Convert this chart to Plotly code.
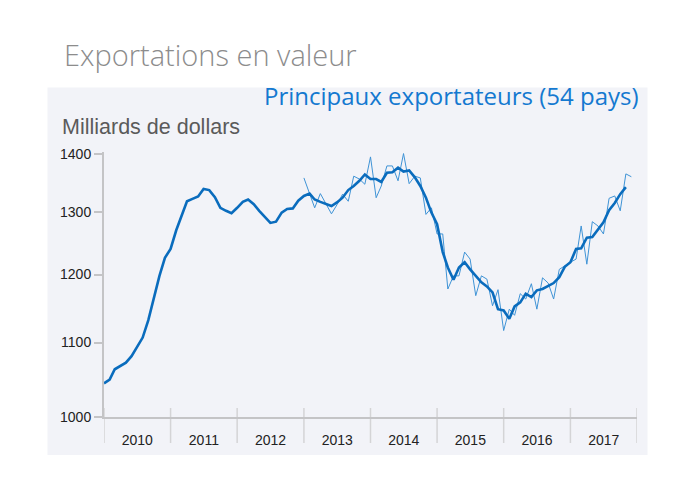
import pandas as pd
import plotly.graph_objects as go

# monthly values, billions of dollars
start_thick = "2010-01-01"
thick_vals = [
    1044, 1049, 1063, 1068, 1072, 1081, 1094, 1107, 1132, 1166, 1198, 1226,
    1240, 1270, 1291, 1318, 1322, 1326, 1339, 1337, 1325, 1307, 1302, 1298,
    1307, 1317, 1321, 1313, 1302, 1292, 1282, 1284, 1299, 1305, 1306, 1319,
    1327, 1331, 1321, 1317, 1313, 1310, 1316, 1324, 1337, 1344, 1353, 1364,
    1356, 1356, 1351, 1367, 1368, 1376, 1369, 1371, 1359, 1344, 1324, 1299,
    1280, 1235, 1211, 1192, 1211, 1219, 1208, 1198, 1188, 1182, 1173, 1148,
    1146, 1134, 1152, 1158, 1171, 1166, 1176, 1178, 1182, 1187, 1196, 1212,
    1219, 1240, 1241, 1258, 1259, 1272, 1283, 1303, 1315, 1330, 1342,
]

start_thin = "2013-01-01"
thin_vals = [
    1358, 1331, 1307, 1331, 1314, 1297, 1312, 1330, 1318, 1361, 1356, 1347,
    1395, 1324, 1344, 1379, 1379, 1353, 1401, 1348, 1361, 1358, 1296, 1307,
    1264, 1264, 1178, 1198, 1198, 1235, 1224, 1168, 1198, 1193, 1153, 1177,
    1117, 1148, 1139, 1171, 1163, 1186, 1148, 1195, 1187, 1163, 1208, 1214,
    1219, 1224, 1277, 1216, 1284, 1277, 1264, 1323, 1327, 1302, 1365, 1360,
]

years = list(range(2010, 2019))
y_ticks = [1000, 1100, 1200, 1300, 1400]

title = "Exportations en valeur"
subtitle = "Principaux exportateurs (54 pays)"
y_title = "Milliards de dollars"

thick_x = pd.date_range(start_thick, periods=len(thick_vals), freq="MS")
thin_x = pd.date_range(start_thin, periods=len(thin_vals), freq="MS")

# the page puts the figure 8px in from the window corner
OFF = 8
W, H = 533, 265
L, T = 104 - OFF, 152 - OFF
R, B = 695 - L - W, 483 - T - H


def px(x):
    # window pixel -> paper x
    return (x - OFF - L) / W


def py(y):
    # window pixel -> paper y
    return (T + H - (y - OFF)) / H


fig = go.Figure()

fig.add_trace(go.Scatter(
    x=thin_x, y=thin_vals, mode="lines",
    line=dict(color="#3f93d6", width=1),
    hoverinfo="skip",
))
fig.add_trace(go.Scatter(
    x=thick_x, y=thick_vals, mode="lines",
    line=dict(color="#0a6cbd", width=2.6),
))

shapes = [dict(
    type="rect", xref="paper", yref="paper",
    x0=px(47.5), x1=px(647.5), y0=py(455), y1=py(87.5),
    fillcolor="#f2f3f8", line=dict(width=0), layer="below",
)]
for yr in years:
    shapes.append(dict(
        type="line", xref="x", yref="paper",
        x0=f"{yr}-01-01", x1=f"{yr}-01-01", y0=py(443), y1=py(408),
        line=dict(color="#d4d4d6", width=1.5), layer="below",
    ))

fig.update_layout(
    width=695, height=483,
    margin=dict(l=L, r=R, t=T, b=B),
    paper_bgcolor="white",
    plot_bgcolor="rgba(0,0,0,0)",
    showlegend=False,
    shapes=shapes,
    font=dict(family="Liberation Sans, Arial, sans-serif", color="#222"),
    xaxis=dict(
        type="date",
        range=[f"{years[0]}-01-01", f"{years[-1]}-01-01"],
        tick0=f"{years[0]}-01-01", dtick="M12",
        ticklabelmode="period", tickformat="%Y",
        ticks="outside", ticklen=9, tickcolor="rgba(0,0,0,0)",
        showgrid=False, zeroline=False,
        showline=True, linecolor="#c4c4c6", linewidth=2,
        tickfont=dict(size=14, color="#222"),
    ),
    yaxis=dict(
        type="log",
        range=[3, 3.1473],
        tickvals=y_ticks, ticktext=[str(v) for v in y_ticks],
        ticks="outside", ticklen=8, tickwidth=2, tickcolor="#c4c4c6",
        showgrid=False, zeroline=False,
        showline=True, linecolor="#c4c4c6", linewidth=2,
        tickfont=dict(size=14, color="#222"),
    ),
    annotations=[
        dict(text=title, xref="paper", yref="paper", x=px(62), y=py(54),
             xanchor="left", yanchor="middle", showarrow=False,
             font=dict(family="Open Sans", size=29, color="#8c8c8c", weight=300)),
        dict(text=subtitle, xref="paper", yref="paper", x=px(641), y=py(95),
             xanchor="right", yanchor="middle", showarrow=False,
             font=dict(family="Open Sans", size=24, color="#1479d0")),
        dict(text=y_title, xref="paper", yref="paper", x=px(60), y=py(127),
             xanchor="left", yanchor="middle", showarrow=False,
             font=dict(size=21.5, color="#5a5a5a")),
    ],
)

fig.write_html("out.html")
